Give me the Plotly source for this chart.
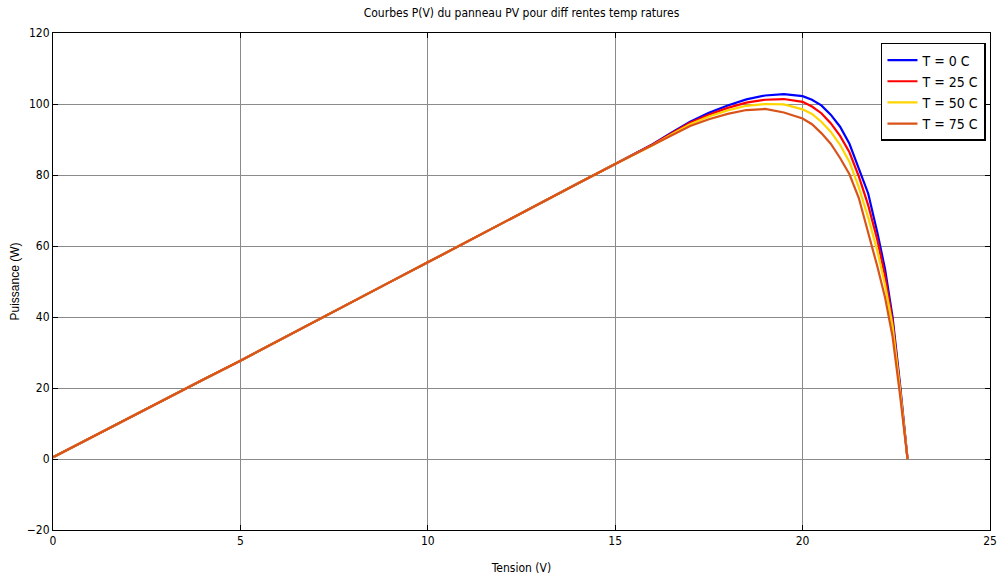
import plotly.graph_objects as go

# Voltage samples (V)
tension = [0, 1, 2, 3, 4, 5, 6, 7, 8, 9, 10, 11, 12, 13, 14, 15, 16, 16.5, 17, 17.5,
           18, 18.5, 19, 19.5, 20, 20.25, 20.5, 20.75, 21, 21.25, 21.5, 21.75, 22,
           22.2, 22.4, 22.6, 22.8]

# Common linear part (V = 0 .. 15)
p_lin = [0.5, 6.0, 11.3, 16.8, 22.3, 27.7, 33.3, 38.8, 44.3, 49.9, 55.4, 61.0, 66.5,
         72.0, 77.6, 83.1]

p_t0 = p_lin + [88.7, 91.9, 95.0, 97.5, 99.6, 101.3, 102.4, 102.8, 102.2, 101.2, 99.6,
                97.0, 93.6, 88.8, 82.0, 74.8, 63.5, 53.5, 40.0, 21.0, 0.0]
p_t25 = p_lin + [88.6, 91.7, 94.7, 97.0, 98.9, 100.4, 101.2, 101.4, 100.6, 99.3, 97.4,
                 94.6, 91.0, 86.4, 79.6, 71.5, 61.5, 51.5, 38.8, 20.0, 0.0]
p_t50 = p_lin + [88.4, 91.4, 94.3, 96.5, 98.2, 99.5, 100.0, 99.9, 98.5, 97.2, 95.0,
                 92.2, 88.5, 83.7, 76.5, 68.0, 58.3, 49.0, 37.5, 19.5, 0.0]
p_t75 = p_lin + [88.3, 91.1, 93.8, 95.7, 97.2, 98.3, 98.6, 97.6, 95.9, 94.3, 91.8,
                 88.8, 84.8, 80.2, 73.5, 64.0, 54.0, 45.5, 34.5, 18.0, 0.0]

noms = ["T = 0 C", "T = 25 C", "T = 50 C", "T = 75 C"]
series = [p_t0, p_t25, p_t50, p_t75]
couleurs = ["#0000FF", "#FF0000", "#FFD500", "#D95319"]

x_ticks = [0, 5, 10, 15, 20, 25]
y_ticks = [-20, 0, 20, 40, 60, 80, 100, 120]

narrow = "Liberation Sans Narrow, Arial Narrow, DejaVu Sans Condensed, Liberation Sans, sans-serif"

fig = go.Figure()
for nom, p, c in zip(noms, series, couleurs):
    fig.add_trace(go.Scatter(x=tension, y=p, mode="lines", name=nom,
                             line=dict(color=c, width=2.2)))

axis_common = dict(showline=True, linecolor="black", linewidth=1, mirror="ticks",
                   ticks="inside", ticklen=5, tickcolor="black", automargin=False,
                   showgrid=True, gridcolor="#8a8a8a", gridwidth=1,
                   zeroline=False, tickfont=dict(family=narrow, size=12, color="black"))

fig.update_layout(
    width=999, height=579,
    paper_bgcolor="white", plot_bgcolor="white",
    margin=dict(l=53, r=9, t=33, b=49),
    title=dict(text="Courbes P(V) du panneau PV pour diff rentes temp ratures",
               x=(53 + 990) / 2 / 999, xanchor="center", y=0.978, yanchor="middle",
               font=dict(family=narrow, size=12, color="black")),
    xaxis=dict(range=[0, 25], tickvals=x_ticks,
               title=dict(text="Tension (V)", standoff=16,
                          font=dict(family=narrow, size=12, color="black")),
               **axis_common),
    yaxis=dict(range=[-20, 120], tickvals=y_ticks,
               title=dict(text="Puissance (W)", standoff=4,
                          font=dict(family="Liberation Sans, Arial, sans-serif", size=12,
                                    color="black")),
               **axis_common),
    legend=dict(x=0.9957, xanchor="right", y=0.98, yanchor="top",
                bgcolor="white", bordercolor="black", borderwidth=1.5,
                font=dict(family=narrow, size=14, color="black"),
                itemwidth=30),
    showlegend=True,
)

fig.write_html("out.html", config={"displayModeBar": False},
               post_script="document.body.style.margin='0';document.body.style.overflow='hidden';")
